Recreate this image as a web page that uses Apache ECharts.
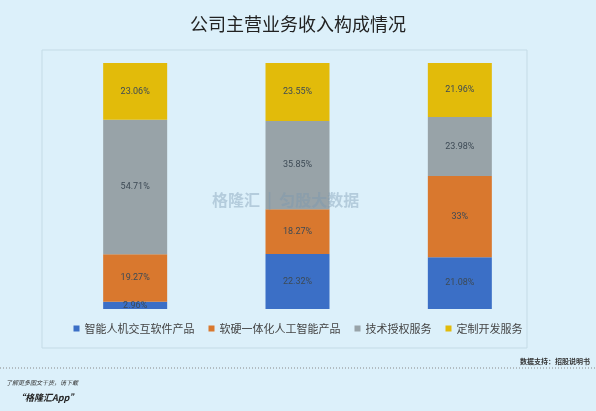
<!DOCTYPE html>
<html><head><meta charset="utf-8">
<script src="https://cdn.jsdelivr.net/npm/echarts@6/dist/echarts.min.js"></script>
<style>html,body{margin:0;padding:0;background:#dcf0fa;}#c{width:596px;height:411px;}</style>
</head><body><div id="c"></div>
<script>
// === ДАННЫЕ ===
const categories = ['A', 'B', 'C'];
const seriesNames = ['智能人机交互软件产品', '软硬一体化人工智能产品', '技术授权服务', '定制开发服务'];
const blueVals = [2.96, 22.32, 21.08];
const orangeVals = [19.27, 18.27, 33];
const grayVals = [54.71, 35.85, 23.98];
const yellowVals = [23.06, 23.55, 21.96];
const colors = ['#3b6fc6', '#d9782e', '#98a3a8', '#e2bb0a'];

const chart = echarts.init(document.getElementById('c'));
const fmt = p => (p.value === 33 ? '33' : p.value.toFixed(2)) + '%';

chart.setOption({
  backgroundColor: '#dcf0fa',
  color: colors,
  title: {
    text: '公司主营业务收入构成情况', left: 'center', top: 10,
    textStyle: { fontSize: 18, fontWeight: 'normal', color: '#222', fontFamily: 'Noto Sans CJK SC' }
  },
  legend: {
    data: seriesNames, bottom: 72, itemWidth: 6, itemHeight: 6, itemGap: 14,
    icon: 'rect', textStyle: { fontSize: 11, color: '#444', fontFamily: 'Noto Sans CJK SC' }
  },
  grid: { left: 54, right: 55, top: 63, bottom: 102 },
  xAxis: { type: 'category', data: categories, show: false },
  yAxis: { type: 'value', max: 100, show: false },
  graphic: [
    { type: 'rect', shape: { x: 42, y: 50, width: 485, height: 298 }, style: { fill: 'none', stroke: '#c4dbe6', lineWidth: 1 }, z: -1 },
    { type: 'text', left: 212, top: 192, z: 100, style: { text: '格隆汇  |  匀股大数据', fill: 'rgba(120,150,175,0.4)', font: 'bold 16px "Noto Sans CJK SC"' } },
    { type: 'line', shape: { x1: 0, y1: 368, x2: 596, y2: 368 }, style: { stroke: '#888', lineDash: [1, 2] } },
    { type: 'text', right: 6, top: 358, style: { text: '数据支持：招股说明书', fill: '#333', font: 'bold 7px "Noto Sans CJK SC"' } },
    { type: 'text', left: 6, top: 380, style: { text: '了解更多图文干货，请下载', fill: '#333', font: 'italic 6px "Noto Sans CJK SC"' } },
    { type: 'text', left: 16, top: 393, style: { text: '“格隆汇App”', fill: '#222', font: 'italic bold 9px "Noto Sans CJK SC"' } }
  ],
  series: [blueVals, orangeVals, grayVals, yellowVals].map((d, i) => ({
    name: seriesNames[i], type: 'bar', stack: 'total', data: d, barWidth: 64,
    label: { show: true, formatter: fmt, color: '#3d4a55', fontSize: 9, fontFamily: 'Roboto' }
  }))
});
</script></body></html>
